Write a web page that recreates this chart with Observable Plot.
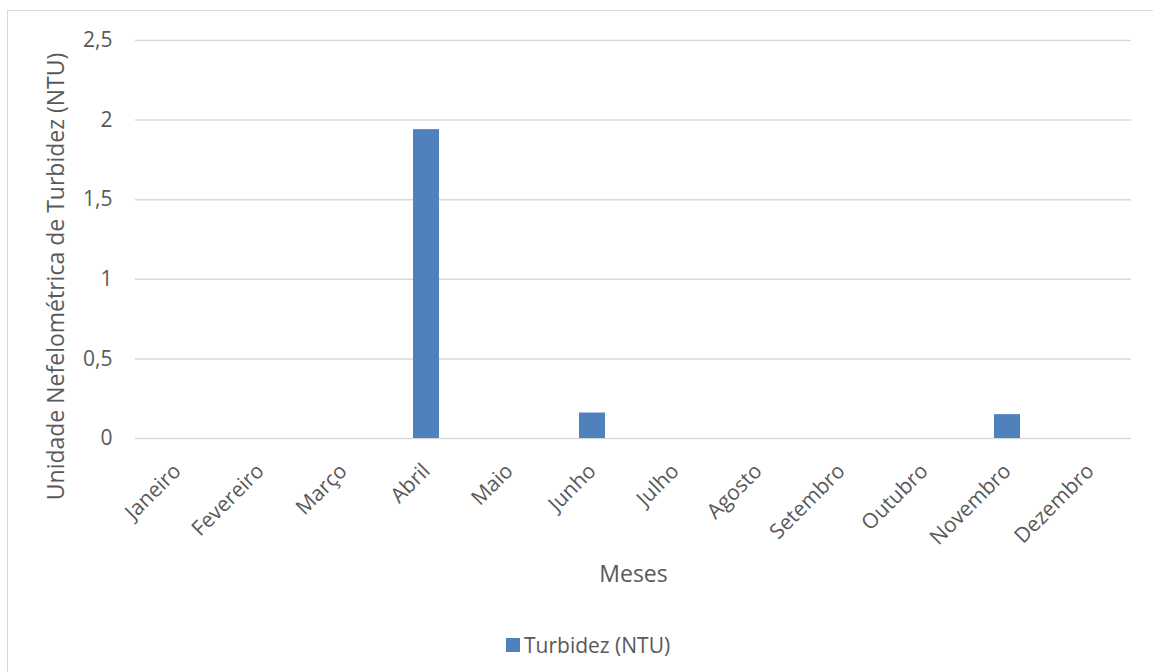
<!DOCTYPE html>
<html lang="pt">
<head>
<meta charset="utf-8">
<script src="https://cdn.jsdelivr.net/npm/d3@7"></script>
<script src="https://cdn.jsdelivr.net/npm/@observablehq/plot@0.6"></script>
<style>
  html, body { margin: 0; padding: 0; background: #fff; overflow: hidden; }
  #page { position: relative; width: 1153px; height: 672px; overflow: hidden; font-family: "Open Sans", sans-serif; color: #595959; }
  #frame { position: absolute; left: 7px; top: 10px; width: 1200px; height: 720px; border: 1.5px solid #d9d9d9; box-sizing: border-box; }
  #chart { position: absolute; left: 0; top: 0; }
  #legend { position: absolute; left: 506px; top: 630px; display: flex; align-items: center; font-size: 21px; line-height: 30px; }
  #legend .swatch { width: 14px; height: 14px; background: #4f81bd; margin-right: 4px; }
</style>
</head>
<body>
<div id="page">
  <div id="frame"></div>
  <div id="chart"></div>
  <div id="legend"><span class="swatch"></span><span>Turbidez (NTU)</span></div>
</div>
<script>
// Meses do ano e turbidez medida (NTU)
const meses = ["Janeiro", "Fevereiro", "Março", "Abril", "Maio", "Junho",
               "Julho", "Agosto", "Setembro", "Outubro", "Novembro", "Dezembro"];
const turbidez = [0, 0, 0, 1.94, 0, 0.16, 0, 0, 0, 0, 0.15, 0];
const yTicks = [0, 0.5, 1, 1.5, 2, 2.5];
const yTitle = "Unidade Nefelométrica de Turbidez (NTU)";
const xTitle = "Meses";

const dados = meses.map((mes, i) => ({mes, valor: turbidez[i]}));
const virgula = d => String(d).replace(".", ",");

const chart = Plot.plot({
  width: 1153,
  height: 620,
  marginLeft: 135,
  marginRight: 22,
  marginTop: 40,
  marginBottom: 182,
  style: {fontFamily: "'Open Sans', sans-serif", color: "#595959", background: "transparent"},
  x: {domain: meses, paddingInner: 0.687, paddingOuter: 0.3435},
  y: {domain: [0, 2.5]},
  marks: [
    Plot.ruleY(yTicks, {stroke: "#d9d9d9", strokeWidth: 1.5}),
    Plot.barY(dados, {x: "mes", y: "valor", fill: "#4f81bd"}),
    Plot.axisY(yTicks, {tickSize: 0, tickPadding: 23, tickFormat: virgula, fontSize: 21, label: null, fill: "#595959"}),
    Plot.axisX({tickSize: 0, tickPadding: 29, tickRotate: -45, dx: 0, fontSize: 21, label: null, fill: "#595959"}),
    Plot.text([yTitle], {frameAnchor: "left", textAnchor: "middle", rotate: -90, dx: -79, dy: 37, fontSize: 23, fill: "#595959", lineAnchor: "middle"}),
    Plot.text([xTitle], {frameAnchor: "bottom", dy: 143, fontSize: 23, fill: "#595959", lineAnchor: "bottom"})
  ]
});
document.getElementById("chart").appendChild(chart);
</script>
</body>
</html>
